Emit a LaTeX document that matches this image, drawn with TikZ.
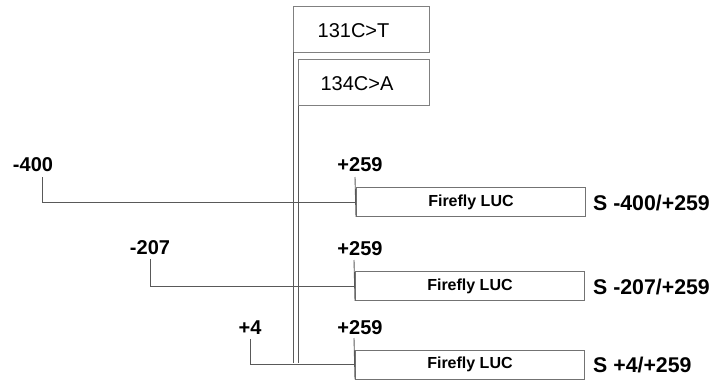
\documentclass[tikz,border=0pt]{standalone}
\usepackage{fontspec}
\setmainfont{Liberation Sans}
\begin{document}
\begin{tikzpicture}[x=1pt,y=-1pt,
  ln/.style={draw=black!65, line width=0.9pt},
  mutbox/.style={draw=black!50, line width=0.9pt, minimum height=46pt, inner sep=0pt, anchor=north west},
  lucbox/.style={draw=black!55, line width=0.9pt, minimum width=229pt, minimum height=29pt, inner sep=0pt, anchor=north west, font=\fontsize{16}{16}\selectfont\bfseries},
  poslab/.style={font=\fontsize{20}{20}\selectfont\bfseries, inner sep=0pt},
  cname/.style={font=\fontsize{21.3}{21.3}\selectfont\bfseries, inner sep=0pt, anchor=west},
  mlab/.style={font=\fontsize{20}{20}\selectfont, inner sep=0pt}]
\useasboundingbox (0,0) rectangle (715,383);
% mutation boxes
\node[mutbox, minimum width=136pt] (m1) at (293,5.5) {};
\node[mlab] (m1t) at (353.5,31) {131C>T};
\node[mutbox, minimum width=131pt] (m2) at (298,59) {};
\node[mlab] (m2t) at (357,84) {134C>A};
\coordinate (v1) at (293,363);
\coordinate (v2) at (298,363);
\draw[ln] (m1.south west) -- (v1);
\draw[ln] (m2.south west) -- (v2);
% row 1
\node[poslab] (a1) at (33,165) {-400};
\node[poslab] (p1) at (360,165) {+259};
\node[lucbox] (b1) at (356,187) {Firefly LUC};
\node[cname] (s1) at (593,203) {S -400/+259};
\coordinate (t1) at (42,177);
\coordinate (u1) at (355,177);
\draw[ln] (t1) |- (b1.west);
\draw[ln] (u1) -- (b1.south west);
% row 2
\node[poslab] (a2) at (150,248) {-207};
\node[poslab] (p2) at (360,249) {+259};
\node[lucbox] (b2) at (355,271) {Firefly LUC};
\node[cname] (s2) at (593,287) {S -207/+259};
\coordinate (t2) at (150,259);
\coordinate (u2) at (354,260);
\draw[ln] (t2) |- (b2.west);
\draw[ln] (u2) -- (b2.south west);
% row 3
\node[poslab] (a3) at (250,328) {+4};
\node[poslab] (p3) at (360,328) {+259};
\node[lucbox] (b3) at (355,349.5) {Firefly LUC};
\node[cname] (s3) at (593,365) {S +4/+259};
\coordinate (t3) at (250,339);
\coordinate (u3) at (354,338);
\draw[ln] (t3) |- (b3.west);
\draw[ln] (u3) -- (b3.south west);
\end{tikzpicture}
\end{document}
